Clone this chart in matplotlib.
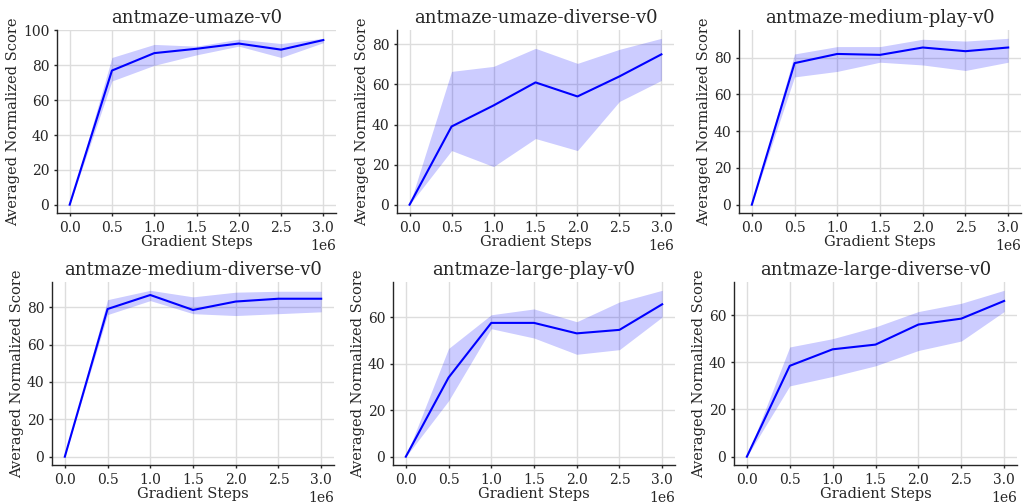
import matplotlib
matplotlib.use("Agg")
import matplotlib.pyplot as plt
import numpy as np

steps = [0.0, 0.5e6, 1.0e6, 1.5e6, 2.0e6, 2.5e6, 3.0e6]

titles = ["antmaze-umaze-v0", "antmaze-umaze-diverse-v0", "antmaze-medium-play-v0",
          "antmaze-medium-diverse-v0", "antmaze-large-play-v0", "antmaze-large-diverse-v0"]

umaze_mean = [0, 77, 87, 89.5, 92.5, 89, 94.5]
umaze_hi = [0, 84.5, 92, 91, 95, 92.5, 95.5]
umaze_lo = [0, 71, 80, 86, 91, 84.5, 93]

umaze_div_mean = [0, 39, 49.5, 61, 54, 64, 75]
umaze_div_hi = [0, 66.5, 69, 78, 70.5, 77.5, 83]
umaze_div_lo = [0, 27, 19, 33, 27, 51.5, 62]

medium_play_mean = [0, 77, 82, 81.5, 85.5, 83.5, 85.5]
medium_play_hi = [0, 82, 86, 86, 90, 89, 90.5]
medium_play_lo = [0, 69.5, 72.5, 77.5, 76, 73, 77.5]

medium_div_mean = [0, 79, 86.5, 78.5, 83, 84.5, 84.5]
medium_div_hi = [0, 84, 89, 85.5, 88, 88.5, 88.5]
medium_div_lo = [0, 76, 83.5, 76.5, 75.5, 76.5, 77.5]

large_play_mean = [0, 34, 57.5, 57.5, 53, 54.5, 65.5]
large_play_hi = [0, 46.5, 61, 63.5, 58, 66.5, 71.5]
large_play_lo = [0, 24, 55, 51, 44, 46, 60]

large_div_mean = [0, 38.5, 45.5, 47.5, 56, 58.5, 66]
large_div_hi = [0, 46.5, 50, 55, 61.5, 65, 70.5]
large_div_lo = [0, 30, 34, 38.5, 45, 49, 61.5]

series = [
    (umaze_mean, umaze_lo, umaze_hi),
    (umaze_div_mean, umaze_div_lo, umaze_div_hi),
    (medium_play_mean, medium_play_lo, medium_play_hi),
    (medium_div_mean, medium_div_lo, medium_div_hi),
    (large_play_mean, large_play_lo, large_play_hi),
    (large_div_mean, large_div_lo, large_div_hi),
]

plt.rcParams['font.family'] = ['DejaVu Serif']
plt.rcParams['text.color'] = '#262626'
plt.rcParams['axes.labelcolor'] = '#262626'
plt.rcParams['xtick.color'] = '#262626'
plt.rcParams['ytick.color'] = '#262626'

fig = plt.figure(figsize=(10.24, 5.04), dpi=100)

W, H = 1024, 504
boxes = [
    (57, 30, 336, 213), (397, 30, 674, 213), (739, 30, 1021, 213),
    (52, 282, 334, 465), (393, 282, 675, 465), (734, 282, 1017, 465),
]

for i, ((m, lo, hi), title) in enumerate(zip(series, titles)):
    x0, y0, x1, y1 = boxes[i]
    ax = fig.add_axes([x0 / W, 1 - y1 / H, (x1 - x0) / W, (y1 - y0) / H])
    ax.fill_between(steps, lo, hi, color='blue', alpha=0.2, linewidth=0)
    ax.plot(steps, m, color='blue', linewidth=1.5)
    ax.set_title(title, fontsize=13, pad=5)
    ax.set_xlabel("Gradient Steps", fontsize=10.5, labelpad=0)
    ax.set_ylabel("Averaged Normalized Score", fontsize=10.5, labelpad=2)
    ax.set_xticks(steps)
    ax.tick_params(labelsize=10, length=2.5, width=1, pad=3, color='#262626')
    ax.grid(True, color='#dddddd', linewidth=1)
    ax.set_axisbelow(True)
    for s in ['top', 'right']:
        ax.spines[s].set_visible(False)
    for s in ['left', 'bottom']:
        ax.spines[s].set_color('#262626')
        ax.spines[s].set_linewidth(1.0)
    ax.xaxis.get_offset_text().set_fontsize(10)

fig.savefig("out.png", dpi=100)
